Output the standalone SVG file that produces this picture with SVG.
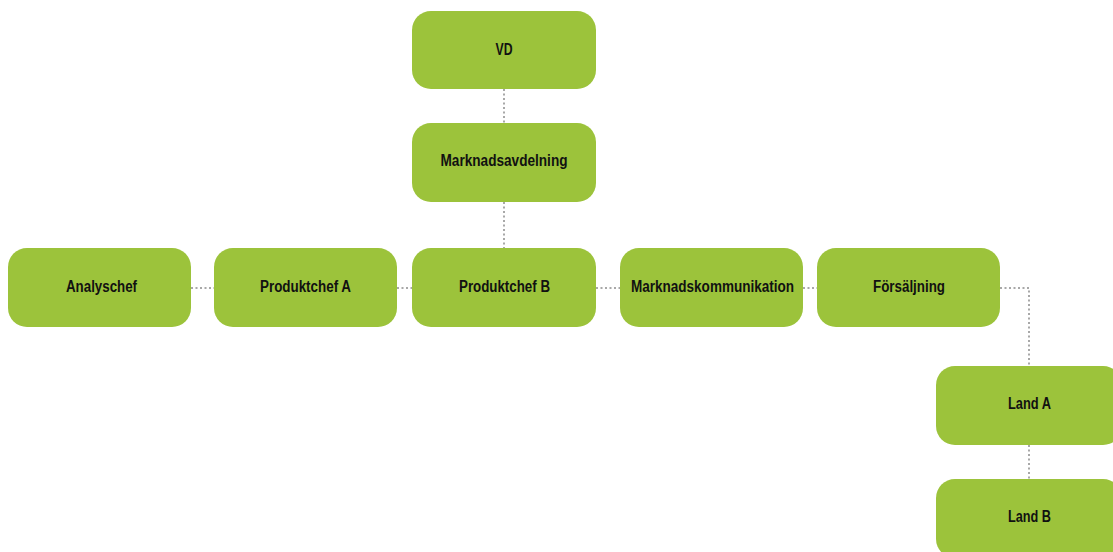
<svg xmlns="http://www.w3.org/2000/svg" width="1113" height="552" viewBox="0 0 1113 552">
  <style>
    .box { fill: #9cc33b; }
    .lbl { font-family: "Liberation Sans", Arial, sans-serif; font-weight: bold; font-size: 16px; fill: #111; text-anchor: middle; }
    .link { fill: none; stroke: #a8a8a8; stroke-width: 2; stroke-dasharray: 2 2.5; }
  </style>
  <rect width="1113" height="552" fill="#ffffff"/>

  <!-- connectors -->
  <g id="connectors">
    <line class="link" x1="504" y1="89" x2="504" y2="123"/>
    <line class="link" x1="504" y1="202" x2="504" y2="248"/>
    <line class="link" x1="191" y1="288" x2="214" y2="288"/>
    <line class="link" x1="397" y1="288" x2="412" y2="288"/>
    <line class="link" x1="596" y1="288" x2="620" y2="288"/>
    <line class="link" x1="803" y1="288" x2="817" y2="288"/>
    <polyline class="link" points="1000,288 1029,288 1029,366"/>
    <line class="link" x1="1029" y1="445" x2="1029" y2="479"/>
  </g>

  <g id="vd">
    <rect class="box" x="412" y="11" width="184" height="78" rx="19"/>
    <text class="lbl" x="504" y="55" textLength="17" lengthAdjust="spacingAndGlyphs">VD</text>
  </g>
  <g id="marknadsavdelning">
    <rect class="box" x="412" y="123" width="184" height="79" rx="19"/>
    <text class="lbl" x="504" y="166" textLength="127" lengthAdjust="spacingAndGlyphs">Marknadsavdelning</text>
  </g>
  <g id="analyschef">
    <rect class="box" x="8" y="248" width="183" height="79" rx="19"/>
    <text class="lbl" x="101.5" y="292" textLength="71" lengthAdjust="spacingAndGlyphs">Analyschef</text>
  </g>
  <g id="produktchef-a">
    <rect class="box" x="214" y="248" width="183" height="79" rx="19"/>
    <text class="lbl" x="305.5" y="292" textLength="91" lengthAdjust="spacingAndGlyphs">Produktchef A</text>
  </g>
  <g id="produktchef-b">
    <rect class="box" x="412" y="248" width="184" height="79" rx="19"/>
    <text class="lbl" x="504.5" y="292" textLength="91" lengthAdjust="spacingAndGlyphs">Produktchef B</text>
  </g>
  <g id="marknadskommunikation">
    <rect class="box" x="620" y="248" width="183" height="79" rx="19"/>
    <text class="lbl" x="712.5" y="292" textLength="163" lengthAdjust="spacingAndGlyphs">Marknadskommunikation</text>
  </g>
  <g id="forsaljning">
    <rect class="box" x="817" y="248" width="183" height="79" rx="19"/>
    <text class="lbl" x="909" y="292" textLength="72" lengthAdjust="spacingAndGlyphs">Försäljning</text>
  </g>
  <g id="land-a">
    <rect class="box" x="936" y="366" width="186" height="79" rx="19"/>
    <text class="lbl" x="1029.5" y="409" textLength="43" lengthAdjust="spacingAndGlyphs">Land A</text>
  </g>
  <g id="land-b">
    <rect class="box" x="936" y="479" width="186" height="79" rx="19"/>
    <text class="lbl" x="1029.5" y="522" textLength="43" lengthAdjust="spacingAndGlyphs">Land B</text>
  </g>
</svg>
